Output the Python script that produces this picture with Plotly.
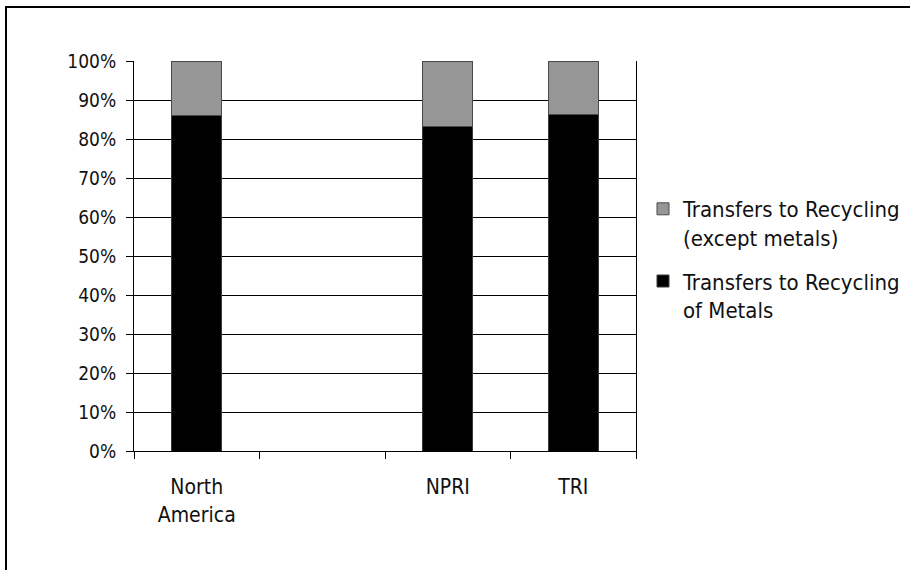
import plotly.graph_objects as go

# Share of transfers to recycling by category
categories = ["North<br>America", " ", "NPRI", "TRI"]
metals = [0.859, None, 0.833, 0.862]
except_metals = [0.141, None, 0.167, 0.138]

series_names = [
    "Transfers to Recycling<br>of Metals",
    "Transfers to Recycling<br>(except metals)",
]

FAMILY = "DejaVu Sans Condensed, DejaVu Sans, sans-serif"
TEXT = "#111111"

W, H = 910, 570
L, R, T, B = 134, 274, 61, 119
pw, ph = W - L - R, H - T - B


def px_x(p):
    return (p - L) / pw


def px_y(p):
    return (H - B - p) / ph


fig = go.Figure()
fig.add_trace(go.Bar(
    x=categories, y=metals, name=series_names[0],
    legendgroup="m", legendrank=2,
    marker=dict(color="#000000", line=dict(color="#3a3a3a", width=1)),
))
fig.add_trace(go.Bar(
    x=categories, y=except_metals, name=series_names[1],
    legendgroup="e", legendrank=1,
    marker=dict(color="#969696", line=dict(color="#4a4a4a", width=1)),
))

fig.update_layout(
    width=W, height=H,
    margin=dict(l=L, r=R, t=T, b=B, autoexpand=False),
    paper_bgcolor="white", plot_bgcolor="white",
    barmode="stack", bargap=0.6,
    font=dict(family=FAMILY, size=19, color=TEXT),
    showlegend=True,
    legend=dict(
        x=px_x(643), y=px_y(188), xanchor="left", yanchor="top",
        traceorder="grouped", valign="top", tracegroupgap=12,
        font=dict(family=FAMILY, size=22, color=TEXT),
        bgcolor="rgba(0,0,0,0)",
    ),
    xaxis=dict(
        type="category", categoryorder="array", categoryarray=categories,
        showline=True, linecolor="#000000", linewidth=1,
        ticks="outside", tickson="boundaries", ticklen=7, tickcolor="#000000",
        ticklabelstandoff=17, showgrid=False, zeroline=False,
        tickfont=dict(family=FAMILY, size=21, color=TEXT),
    ),
    yaxis=dict(
        range=[0, 1], dtick=0.1, tickformat=".0%",
        showline=True, mirror=True, linecolor="#000000", linewidth=1,
        ticks="outside", ticklen=7, tickcolor="#000000", ticklabelstandoff=6,
        showgrid=True, gridcolor="#000000", gridwidth=1, zeroline=False,
        tickfont=dict(family=FAMILY, size=19, color=TEXT),
    ),
    shapes=[dict(
        type="rect", xref="paper", yref="paper",
        x0=px_x(6), x1=px_x(930), y0=px_y(590), y1=px_y(7),
        line=dict(color="#000000", width=2), fillcolor="rgba(0,0,0,0)",
        layer="above",
    )],
)

fig.write_html("out.html")
